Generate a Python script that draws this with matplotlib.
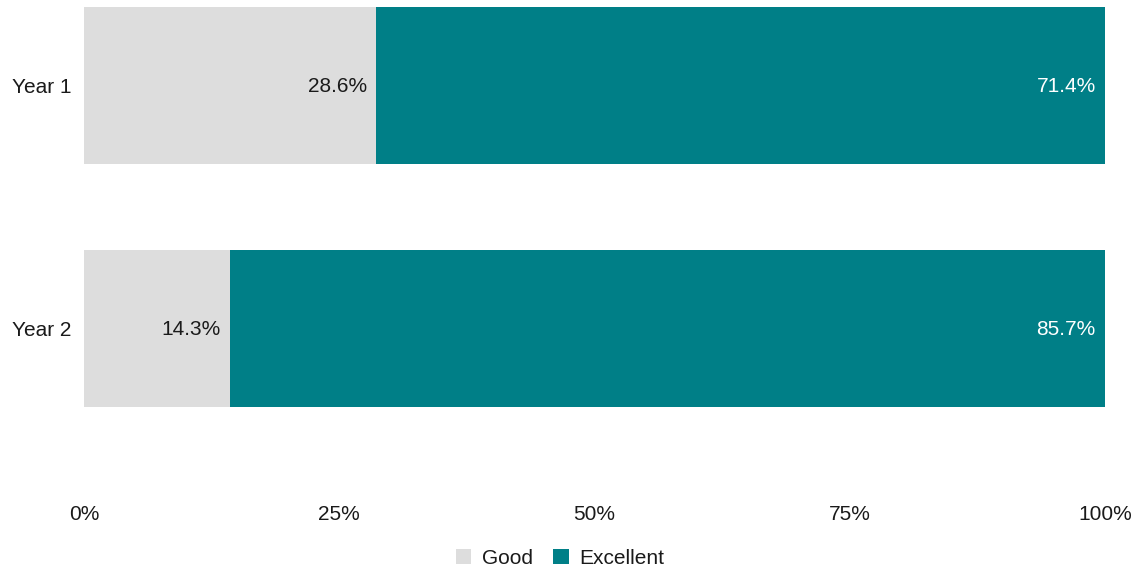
import matplotlib
matplotlib.use("Agg")
import matplotlib.pyplot as plt
from matplotlib.patches import Patch

plt.rcParams['font.family'] = ['Liberation Sans', 'DejaVu Sans']

categories = ["Year 1", "Year 2"]
good = [28.6, 14.3]
excellent = [71.4, 85.7]
series_names = ["Good", "Excellent"]
tick_values = [0, 25, 50, 75, 100]
tick_labels = ["0%", "25%", "50%", "75%", "100%"]

c_good = "#DDDDDD"
c_exc = "#007F87"

W, H = 1137, 568
fig = plt.figure(figsize=(W / 100, H / 100), dpi=100)
left, right, top, bottom = 84, 1105, 7, 490
ax = fig.add_axes([left / W, 1 - bottom / H, (right - left) / W, (bottom - top) / H])

ypos = list(range(len(categories)))
bh = 0.646
ax.barh(ypos, good, height=bh, color=c_good, edgecolor="none")
ax.barh(ypos, excellent, left=good, height=bh, color=c_exc, edgecolor="none")

fs = 15
for y, g, e in zip(ypos, good, excellent):
    ax.text(g - 0.9, y + 0.006, f"{g:.1f}%", ha="right", va="center", fontsize=fs, color="#1a1a1a")
    ax.text(g + e - 0.9, y + 0.006, f"{e:.1f}%", ha="right", va="center", fontsize=fs, color="white")

ax.set_xlim(0, 100)
ax.set_ylim(1.665, -0.323)
ax.set_yticks(ypos)
ax.set_yticklabels(categories, fontsize=fs, color="#1a1a1a")
ax.set_xticks(tick_values)
ax.set_xticklabels(tick_labels, fontsize=fs, color="#1a1a1a")
ax.tick_params(axis="both", length=0)
ax.tick_params(axis="y", pad=9)
ax.tick_params(axis="x", pad=11)
for s in ax.spines.values():
    s.set_visible(False)

handles = [Patch(facecolor=c_good, edgecolor="none"), Patch(facecolor=c_exc, edgecolor="none")]
fig.legend(handles, series_names, loc="center", bbox_to_anchor=(560 / W, 1 - 558 / H),
           ncol=2, frameon=False, fontsize=fs, handlelength=0.75, handleheight=0.75,
           handletextpad=0.5, columnspacing=1.0, labelcolor="#1a1a1a")

fig.savefig("out.png", dpi=100, facecolor="white")
